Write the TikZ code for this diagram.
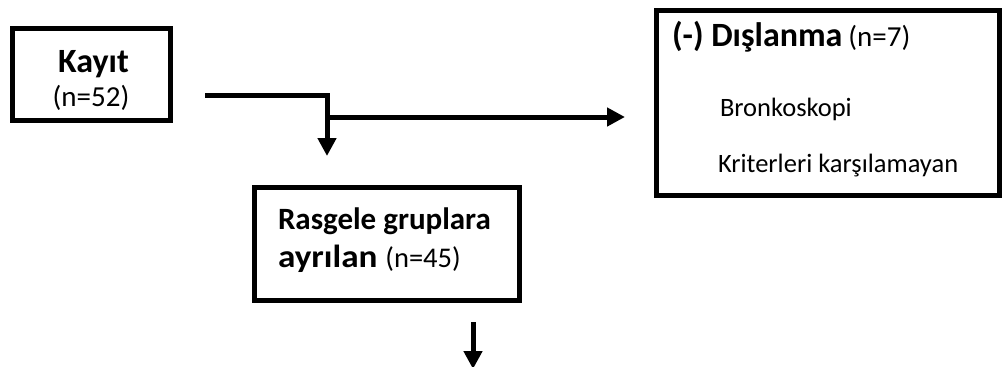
\documentclass[tikz,border=0pt]{standalone}
\usepackage{fontspec}
\setmainfont{Carlito}
\usetikzlibrary{arrows.meta}
% bold heading text and regular count text at a given size
\newcommand{\headtxt}[2][31]{{\fontsize{#1}{#1}\selectfont\bfseries #2}}
\newcommand{\counttxt}[2][26.5]{{\fontsize{#1}{#1}\selectfont #2}}
\begin{document}
\begin{tikzpicture}[x=1pt, y=-1pt,
  frame/.style={draw=black, line width=5pt, inner sep=0pt, outer sep=0pt},
  lbl/.style={inner sep=0pt, outer sep=0pt, font=\fontsize{26.5}{32}\selectfont},
  conn/.style={line width=5pt, line join=miter, -{Triangle[length=18pt,width=18pt]}}]
\useasboundingbox (0,0) rectangle (1002,367);

% boxes
\node[frame, minimum width=158pt, minimum height=92pt]  (kayit) at (91.5,74.5) {};
\node[frame, minimum width=265pt, minimum height=113pt] (rasg)  at (387,244) {};
\node[frame, minimum width=343pt, minimum height=185pt] (disl)  at (828,103) {};

% box texts
\node[lbl, anchor=base] (kayitT) at (93.5,72) {\headtxt[34]{Kayıt}};
\node[lbl, anchor=base] (kayitN) at (91,106) {\counttxt[29]{(n=52)}};
\node[lbl, anchor=base west] (rasgT1) at (278,229) {\headtxt{Rasgele gruplara}};
\node[lbl, anchor=base west] (rasgT2) at (278,267)
  {\scalebox{1.1}[1]{\headtxt[32]{ayrılan}}\hspace{0.3em}\counttxt[28.5]{(n=45)}};
\node[lbl, anchor=base west] (dislT) at (672,46) {\headtxt[34]{(-) Dışlanma} \counttxt[29]{(n=7)}};
\node[lbl, anchor=base west] (bronk) at (720,116) {Bronkoskopi};
\node[lbl, anchor=base west] (krit)  at (718,172) {Kriterleri karşılamayan};

% connector points
\coordinate (c0) at (205,95);
\coordinate (c1) at (327,95);
\coordinate (c2) at (327,156);
\coordinate (c3) at (327,117);
\coordinate (c4) at (625,117);
\coordinate (c5) at (473,322);
\coordinate (c6) at (473,369);

% connectors
\draw[conn] (c0) -- (c1) -- (c2);
\draw[conn] (c3) -- (c4);
\draw[conn] (c5) -- (c6);
\end{tikzpicture}
\end{document}
